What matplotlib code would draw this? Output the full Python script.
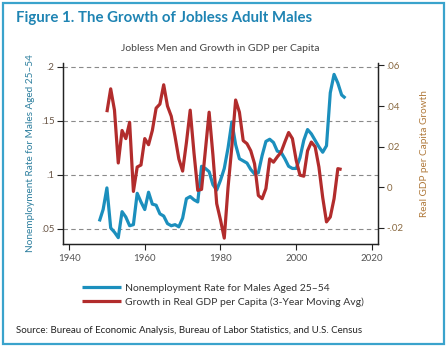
import matplotlib
matplotlib.use("Agg")
from matplotlib import pyplot as plt
from matplotlib.patches import Rectangle

plt.rcParams['font.family'] = ['Lato', 'DejaVu Sans']

# Nonemployment rate, males 25-54 (annual)
jobless_years = list(range(1948, 2014))
jobless_rate = [
    0.057, 0.068, 0.088, 0.051, 0.047, 0.042, 0.066, 0.061, 0.053, 0.054,  # 1948-57
    0.083, 0.075, 0.068, 0.084, 0.073, 0.072, 0.064, 0.062, 0.055, 0.053,  # 1958-67
    0.054, 0.052, 0.060, 0.078, 0.080, 0.077, 0.075, 0.108, 0.106, 0.103,  # 1968-77
    0.091, 0.086, 0.095, 0.106, 0.125, 0.149, 0.128, 0.115, 0.113, 0.111,  # 1978-87
    0.105, 0.101, 0.102, 0.118, 0.131, 0.133, 0.130, 0.122, 0.121, 0.115,  # 1988-97
    0.108, 0.106, 0.106, 0.116, 0.132, 0.142, 0.138, 0.132, 0.126, 0.121,  # 1998-2007
    0.127, 0.176, 0.193, 0.185, 0.174, 0.171,                              # 2008-13
]

# Real GDP per capita growth, 3-year moving average
gdp_years = list(range(1950, 2013))
gdp_growth = [
    0.037, 0.0485, 0.038, 0.012, 0.028, 0.024, 0.032, -0.002, 0.010, 0.011,  # 1950-59
    0.024, 0.021, 0.028, 0.039, 0.041, 0.0505, 0.040, 0.035, 0.025, 0.014,   # 1960-69
    0.008, 0.022, 0.038, 0.017, -0.0015, -0.001, 0.018, 0.037, 0.016, -0.008, # 1970-79
    -0.016, -0.025, 0.000, 0.020, 0.043, 0.037, 0.023, 0.0215, 0.018, 0.0116, # 1980-89
    -0.004, -0.0056, -0.0006, 0.014, 0.0124, 0.015, 0.0173, 0.0223, 0.027, 0.024,  # 1990-99
    0.0133, 0.006, 0.0055, 0.018, 0.0223, 0.020, 0.010, -0.005, -0.017, -0.0146,   # 2000-09
    -0.0056, 0.0092, 0.0088,                                                        # 2010-12
]

left_ticks = [0.05, 0.1, 0.15, 0.2]
left_labels = ['.05', '.1', '.15', '.2']
right_ticks = [-0.02, 0, 0.02, 0.04, 0.06]
right_labels = ['-.02', '0', '.02', '.04', '.06']
x_ticks = [1940, 1960, 1980, 2000, 2020]

blue = '#1b8fbd'
red = '#b22c2c'
frame_blue = '#3aa3cc'
title_blue = '#1f84b3'

fig = plt.figure(figsize=(4.48, 3.47), dpi=100)
fig.patches.append(Rectangle((0.006, 0.009), 0.986, 0.983, transform=fig.transFigure,
                             fill=False, edgecolor=frame_blue, linewidth=1.6))

fig.text(0.036, 0.948, 'Figure 1. The Growth of Jobless Adult Males', fontsize=10.8,
         fontweight='bold', color=title_blue, va='center', ha='left')

ax = fig.add_axes([0.1406, 0.2968, 0.7031, 0.5215])
ax2 = ax.twinx()

ax.plot(jobless_years, jobless_rate, color=blue, linewidth=2.3, solid_capstyle='butt')
ax2.plot(gdp_years, gdp_growth, color=red, linewidth=2.3, solid_capstyle='butt')

ax.set_xlim(1938.4, 2021.6)
ax.set_ylim(0.0361, 0.2035)
ax2.set_ylim(-0.0279, 0.0612)

ax.set_xticks(x_ticks)
ax.set_yticks(left_ticks)
ax.set_yticklabels(left_labels)
ax2.set_yticks(right_ticks)
ax2.set_yticklabels(right_labels)

for t in left_ticks:
    ax.axhline(t, color='#8a8a8a', linewidth=0.8, linestyle=(0, (4, 3)), zorder=0)

for a in (ax, ax2):
    a.spines['top'].set_visible(False)
    for s in a.spines.values():
        s.set_linewidth(0.9)
        s.set_color('#222222')
    a.tick_params(direction='out', length=4, width=0.8, colors='#222222', labelsize=7)

ax.tick_params(axis='x', labelcolor='#555555', pad=3)
ax.tick_params(axis='y', labelcolor='#6a5646', pad=2)
ax2.tick_params(axis='y', labelcolor='#8a6a42', pad=2)

ax.set_ylabel('Nonemployment Rate for Males Aged 25\u201354', fontsize=7.2,
              color='#2d7f9e', labelpad=4)
ax2.set_ylabel('Real GDP per Capita Growth', fontsize=7.2, color='#b07a3c', labelpad=12)
ax.set_title('Jobless Men and Growth in GDP per Capita', fontsize=7.5,
             color='#444444', pad=9)

fig.legend(ax.get_lines()[:1] + ax2.get_lines(),
           ['Nonemployment Rate for Males Aged 25\u201354',
            'Growth in Real GDP per Capita (3-Year Moving Avg)'],
           loc='upper left', bbox_to_anchor=(0.183, 0.183), frameon=False,
           fontsize=7.5, handlelength=3.7, handletextpad=0.45, labelspacing=0.4,
           borderaxespad=0, borderpad=0, labelcolor='#333333')

fig.text(0.036, 0.047, 'Source: Bureau of Economic Analysis, Bureau of Labor Statistics, and U.S. Census',
         fontsize=7.0, color='#222222', va='center', ha='left')

fig.savefig('out.png', dpi=100)
